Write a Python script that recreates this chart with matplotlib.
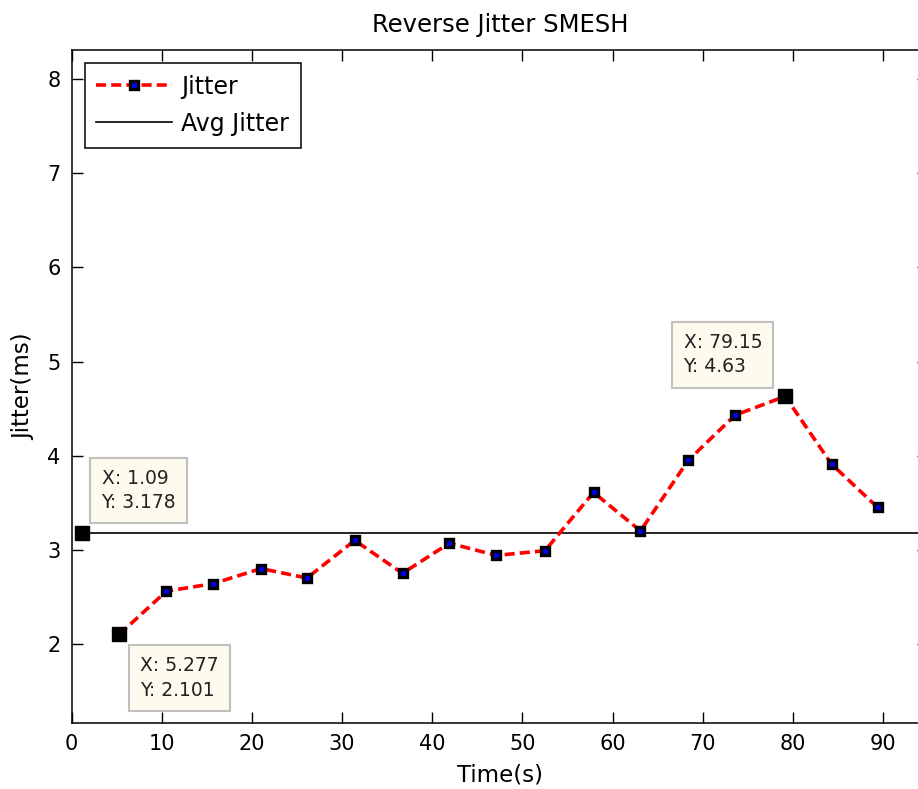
import matplotlib
matplotlib.use('Agg')
import matplotlib.pyplot as plt

# Jitter samples (time in s, jitter in ms)
time_s = [5.277, 10.5, 15.7, 21.0, 26.1, 31.4, 36.7, 41.9, 47.1, 52.5,
          57.9, 63.1, 68.4, 73.6, 79.15, 84.3, 89.4]
jitter_ms = [2.101, 2.56, 2.64, 2.80, 2.70, 3.10, 2.75, 3.07, 2.94, 2.99,
             3.61, 3.20, 3.95, 4.43, 4.63, 3.91, 3.45]

avg_start = 1.09
avg_jitter = 3.178

# data tips: (x, y, text offset px, ha, va)
tips = [
    (1.09, 3.178, (20, 21), 'left', 'bottom'),
    (5.277, 2.101, (21, -22), 'left', 'top'),
    (79.15, 4.63, (-23, 20), 'right', 'bottom'),
]

plt.rcParams['font.family'] = ['DejaVu Sans']

fig = plt.figure(figsize=(9.18, 7.89), dpi=100)
ax = fig.add_axes([0.0781, 0.0837, 0.9328, 0.853])

ax.plot(time_s, jitter_ms, color='#ff0000', linestyle=(0, (2.8, 1.4)), linewidth=2.6,
        marker='s', markersize=5.5, markerfacecolor='#0000ff', markeredgecolor='black',
        markeredgewidth=2.4, label='Jitter', zorder=3)
ax.plot([avg_start, 95], [avg_jitter, avg_jitter], color='black', linewidth=1.2,
        label='Avg Jitter', zorder=2)

for x, y, off, ha, va in tips:
    ax.plot([x], [y], marker='s', markersize=10.5, color='black', zorder=5, clip_on=False)
    ax.annotate(f'X: {x:g}\nY: {y:g}', xy=(x, y), xytext=off, textcoords='offset pixels',
                ha=ha, va=va, multialignment='left', fontsize=13.5, linespacing=1.35,
                color='#222222',
                bbox=dict(boxstyle='square,pad=0.6', facecolor='#fffaee',
                          edgecolor='#c0c0c0', linewidth=1.5), zorder=6)

ax.set_xlim(0, 95)
ax.set_ylim(1.16, 8.31)
ax.set_xticks(range(0, 91, 10))
ax.set_yticks(range(2, 9))

ax.tick_params(direction='in', length=8, width=1, top=True, right=True,
               labelsize=15, colors='black')
ax.tick_params(axis='x', pad=8)
ax.tick_params(axis='y', pad=8)
for s in ax.spines.values():
    s.set_linewidth(1.1)

ax.set_title('Reverse Jitter SMESH', fontsize=17.5, pad=13)
ax.set_xlabel('Time(s)', fontsize=16.5, labelpad=7)
ax.set_ylabel('Jitter(ms)', fontsize=16.5, labelpad=9)

leg = ax.legend(loc='upper left', fontsize=17, handlelength=3.2, handletextpad=0.4,
                borderaxespad=0.55, fancybox=False, framealpha=1, edgecolor='black',
                borderpad=0.5, labelspacing=0.55)
leg.get_frame().set_linewidth(1.1)

fig.savefig('out.png', dpi=100)
